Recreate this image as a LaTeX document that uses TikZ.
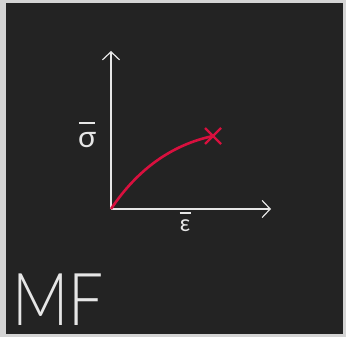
\documentclass[tikz,border=0pt]{standalone}
\usepackage{fontspec}
\usepackage{tikz}
\usetikzlibrary{arrows.meta}
\setmainfont{Lato}
\newfontfamily\thinfont{Lato Light}
\definecolor{frame}{HTML}{D4D4D4}
\definecolor{board}{HTML}{232323}
\definecolor{chalk}{HTML}{E6E6E6}
\definecolor{curvered}{HTML}{D8103E}

\begin{document}
\begin{tikzpicture}[x=1pt,y=-1pt,>={Straight Barb[length=8pt,width=17pt,line width=1.2pt]},
    axis/.style={->,color=chalk,line width=2pt},
    varlabel/.style={color=chalk,inner sep=0pt,align=center}]
      \useasboundingbox (0,0) rectangle (346,337);
      \fill[color=frame] (0,0) rectangle (346,337);
      \fill[color=board] (6,3) rectangle (343,334);
      \coordinate (o) at (111,209);
      \coordinate (ytip) at (111,51);
      \coordinate (xtip) at (271,209);
      \coordinate (fail) at (213,136);
      \draw[axis] (o) -- (ytip);
      \draw[axis] (o) -- (xtip);
      \node[varlabel,font=\fontsize{30}{30}\selectfont] (sig) at (87,135) {\rule{16pt}{1.4pt}\\[-6pt]σ};
      \node[varlabel,font=\fontsize{23}{23}\selectfont] (eps) at (185,222) {\rule{11pt}{1.4pt}\\[-5pt]ε};
      \draw[color=curvered,line width=2.6pt] (o) .. controls (137,170) and (171,145) .. (fail);
      \draw[color=curvered,line width=2.4pt] ([shift={(-8,-8)}]fail) -- ([shift={(8,8)}]fail)
        ([shift={(-8,8)}]fail) -- ([shift={(8,-8)}]fail);
      \node[color=chalk,anchor=base west,inner sep=0pt,font=\thinfont\fontsize{73}{73}\selectfont] (mf) at (12,325) {\scalebox{0.85}[1]{MF}};
    \end{tikzpicture}
\end{document}
